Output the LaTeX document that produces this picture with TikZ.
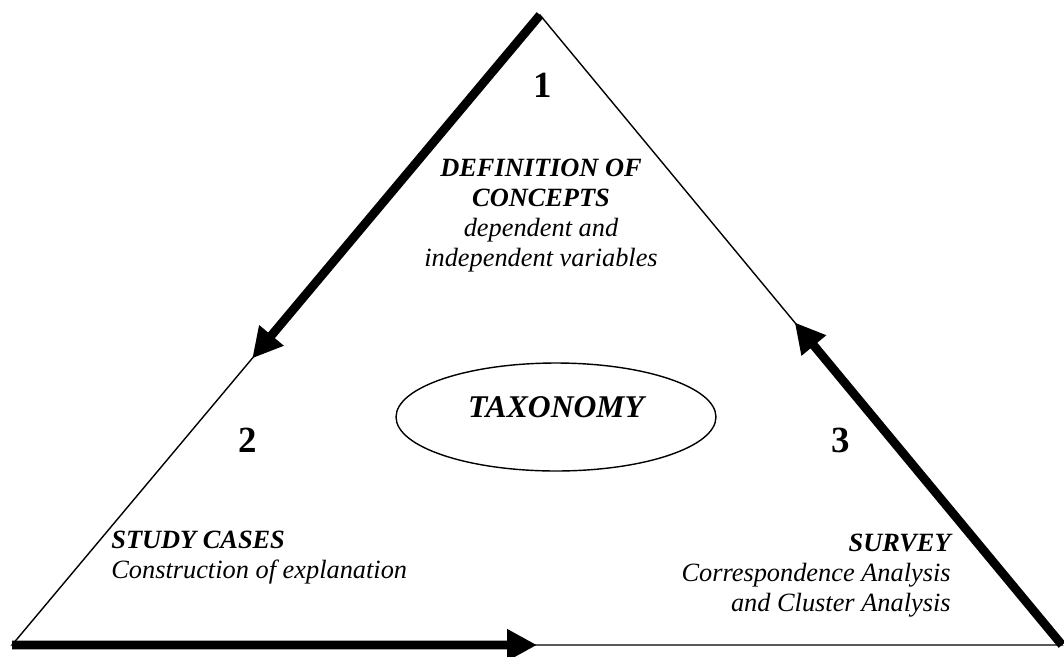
\documentclass[tikz,border=0pt]{standalone}
\usepackage{fontspec}
\setmainfont{Liberation Serif}
\usetikzlibrary{calc,arrows.meta,shapes.geometric}

\begin{document}
\begin{tikzpicture}
[
    x=0.02cm, y=-0.02cm,
    edge/.style={line width=0.8pt},
    flow/.style={line width=5pt, -{Triangle[length=0.6cm, width=0.6cm]}},
    num/.style={font=\fontsize{21}{24}\selectfont\bfseries},
    txt/.style={font=\fontsize{15}{17}\selectfont\itshape, inner sep=0pt},
]
\useasboundingbox (0,0) rectangle (1064,656);
\coordinate (top) at (540,15);
\coordinate (left) at (12,645);
\coordinate (right) at (1062,645);
\coordinate (tipL) at ($(top)!0.545!(left)$);
\coordinate (tipB) at ($(left)!0.5!(right)$);
\coordinate (tipR) at ($(right)!0.512!(top)$);
\draw[edge] (top) -- (left) -- (right) -- cycle;
\draw[flow] (top) -- (tipL);
\draw[flow] (left) -- (tipB);
\draw[flow] (right) -- (tipR);
\node[num] (one) at (543,85) {1};
\node[num] (two) at (248,440) {2};
\node[num] (three) at (841,440) {3};
\node[txt, align=center, anchor=base] (concepts) at (541,266)
{\textbf{DEFINITION OF}\\\textbf{CONCEPTS}\\dependent and\\independent variables};
\node[draw, edge, ellipse, minimum width=6.4cm, minimum height=2.16cm, inner sep=0pt,
    font=\fontsize{18}{20}\selectfont\bfseries\itshape, text height=8pt, text depth=8pt]
    (taxonomy) at (556,417) {TAXONOMY};
\node[txt, align=left, anchor=base west] (study) at (111,578)
{\textbf{STUDY CASES}\\Construction of explanation};
\node[txt, align=right, anchor=base east] (survey) at (951,611)
{\textbf{SURVEY}\\Correspondence Analysis\\and Cluster Analysis};
\end{tikzpicture}
\end{document}
